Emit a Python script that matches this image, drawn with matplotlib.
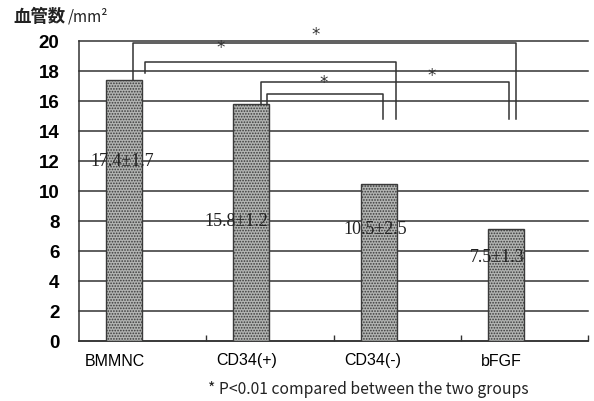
import matplotlib
matplotlib.use("Agg")
import matplotlib.pyplot as plt
import numpy as np

# ---- data ----
categories = ["BMMNC", "CD34(+)", "CD34(-)", "bFGF"]
means = [17.4, 15.8, 10.5, 7.5]
sds = [1.7, 1.2, 2.5, 1.3]
y_ticks = [0, 2, 4, 6, 8, 10, 12, 14, 16, 18, 20]
# significance brackets: (left group, right group)
pairs = [(0, 3), (0, 2), (1, 3), (1, 2)]

# ---- layout ----
bar_offset = -0.145
bar_width = 0.283
label_x = [-0.162, 0.734, 1.826, 2.785]
label_y = [12.0, 8.0, 7.4, 5.6]
xtick_pos = [-0.22, 0.82, 1.81, 2.82]
# bracket geometry: x_left, x_right, top, left_bottom, right_bottom, star_x, star_y
brackets = [
    (-0.076, 2.934, 19.9, 17.4, 14.8, 1.36, 20.4),
    (0.019, 1.991, 18.6, 17.9, 14.8, 0.61, 19.5),
    (0.930, 2.879, 17.3, 15.8, 14.8, 2.27, 17.7),
    (0.977, 1.889, 16.5, 15.8, 14.8, 1.42, 17.2),
]

plt.rcParams["hatch.color"] = "#8e908e"
plt.rcParams["hatch.linewidth"] = 0.8

fig = plt.figure(figsize=(5.94, 4.01), dpi=100)
ax = fig.add_axes([79/594, 1-341/401, (588-79)/594, (341-41)/401])

x = np.arange(len(categories))
ax.bar(x + bar_offset, means, width=bar_width, color="#b2b4b2",
       edgecolor="#3a3a3a", linewidth=1.0, hatch="......", zorder=3)

for i in range(len(categories)):
    ax.text(label_x[i], label_y[i], f"{means[i]}±{sds[i]}", ha="center", va="center",
            fontsize=13, family="Liberation Serif", color="#222222", zorder=5)

for (xl, xr, top, lb, rb, sx, sy) in brackets:
    ax.plot([xl, xl, xr, xr], [lb, top, top, rb], color="#333333", lw=1.1,
            zorder=4, clip_on=False)
    ax.text(sx, sy, "*", ha="center", va="center", fontsize=12,
            color="#333333", clip_on=False)

ax.set_xlim(-0.5, 3.5)
ax.set_ylim(0, 20)
ax.set_yticks(y_ticks)
ax.set_yticklabels([str(v) for v in y_ticks], fontsize=13.5, fontweight="bold",
                   family="Liberation Sans")
ax.tick_params(axis="y", length=0, pad=14)
ax.set_xticks(xtick_pos)
ax.set_xticklabels(categories, fontsize=11.5, family="Liberation Sans")
ax.tick_params(axis="x", length=0, pad=9)
ax.set_xticks([0.5, 1.5, 2.5, 3.5], minor=True)
ax.tick_params(axis="x", which="minor", direction="in", length=4, width=1, color="#333333")

ax.yaxis.grid(True, color="#333333", linewidth=1.1, zorder=0)
for gl in ax.get_ygridlines():
    gl.set_clip_on(False)
ax.set_axisbelow(True)
ax.spines["top"].set_visible(False)
ax.spines["right"].set_visible(False)
ax.spines["left"].set_color("#333333")
ax.spines["bottom"].set_color("#333333")
ax.spines["left"].set_linewidth(1.1)
ax.spines["bottom"].set_linewidth(1.1)

fig.text(13/594, 1-17/401, "血管数", fontsize=12.5, fontweight="bold",
         family=["Noto Sans CJK JP", "DejaVu Sans"], va="center", ha="left", color="#222222")
fig.text(68/594, 1-17/401, "/mm²", fontsize=11,
         family=["Noto Sans CJK JP", "DejaVu Sans"], va="center", ha="left", color="#222222")
fig.text(208/594, 1-389/401, "* P<0.01 compared between the two groups", fontsize=11.3,
         family=["Noto Sans CJK JP", "DejaVu Sans"], va="center", ha="left", color="#222222")

fig.savefig("out.png", dpi=100)
